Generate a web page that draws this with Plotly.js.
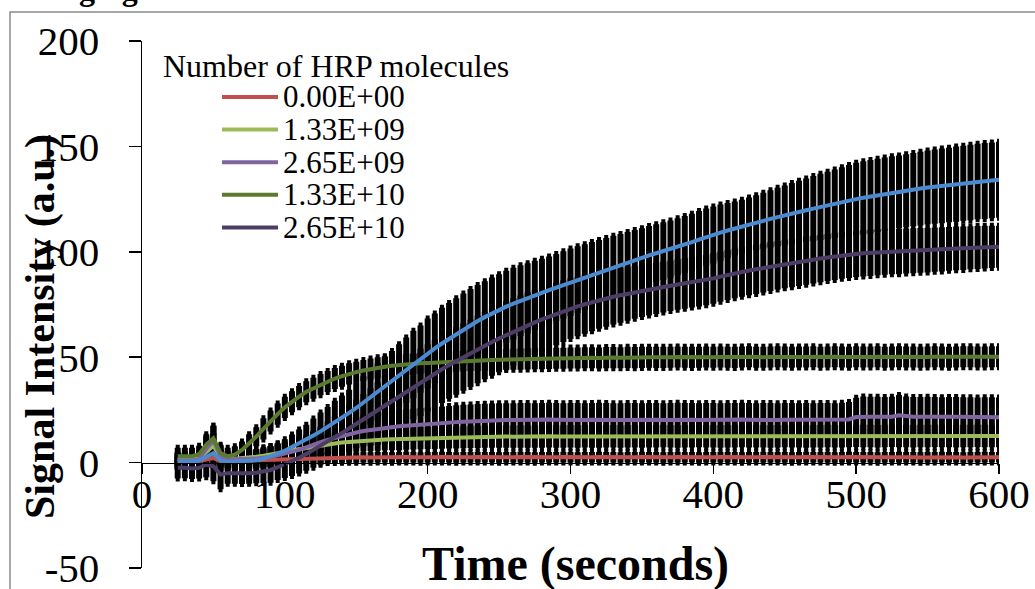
<!DOCTYPE html>
<html>
<head>
<meta charset="utf-8">
<script src="https://cdn.plot.ly/plotly-3.0.1.min.js"></script>
<style>html,body{margin:0;padding:0;background:#fff;}#chart{width:1035px;height:589px;}</style>
</head>
<body>
<div id="chart"></div>
<script>
// ---- data ----
const timeSec = [25,30,35,40,45,50,55,60,65,70,75,80,85,90,95,100,105,110,115,120,125,130,135,140,145,150,155,160,165,170,175,180,185,190,195,200,205,210,215,220,225,230,235,240,245,250,255,260,265,270,275,280,285,290,295,300,305,310,315,320,325,330,335,340,345,350,355,360,365,370,375,380,385,390,395,400,405,410,415,420,425,430,435,440,445,450,455,460,465,470,475,480,485,490,495,500,505,510,515,520,525,530,535,540,545,550,555,560,565,570,575,580,585,590,595,600];

const seriesNames = ['0.00E+00','1.33E+09','2.65E+09','1.33E+10','2.65E+10','(unlabelled)'];
const seriesColors = ['#C0504D','#9BBB59','#8064A2','#5A7A30','#4D3D66','#4A8AD0'];
const inLegend = [true,true,true,true,true,false];

const hrp0 = [0.5,0.6,0.5,0.7,1.5,2.2,0.6,0.5, 0.7,0.9,1.0,1.2,1.3,1.5,1.6,1.8, 1.9,2.0,2.1,2.2,2.2,2.3,2.3,2.4,2.4,2.4,
 2.5,2.4,2.5,2.5,2.4,2.5,2.6,2.5,2.4,2.5, 2.5,2.6,2.5,2.4,2.5,2.5,2.6,2.5,2.5,2.4, 2.5,2.5,2.6,2.5,2.4,2.5,2.5,2.5,2.6,2.5,
 2.4,2.5,2.5,2.6,2.5,2.5,2.4,2.5,2.5,2.6, 2.5,2.5,2.4,2.5,2.6,2.5,2.5,2.4,2.5,2.5, 2.6,2.5,2.5,2.4,2.5,2.5,2.6,2.5,2.5,2.5,
 2.4,2.5,2.6,2.5,2.5,2.5,2.4,2.5,2.6,2.5, 2.5,2.5,2.4,2.5,2.5,2.6,2.5,2.5,2.4,2.5, 2.5,2.6,2.5,2.5,2.4,2.5,2.5,2.6,2.5,2.5];
const hrp1 = [1.5,1.6,1.5,2.0,5.0,8.0,2.5,1.6, 1.8,2.0,2.4,2.8,3.3,3.8,4.5,5.3, 5.9,6.5,7.1,7.6,8.1,8.6,9.1,9.5,9.8,10.1,
 10.4,10.6,10.8,11.0,11.1,11.2,11.4,11.5,11.6,11.7, 11.8,11.9,12.0,12.0,12.1,12.2,12.2,12.3,12.3,12.3, 12.4,12.3,12.4,12.4,12.3,12.4,12.5,12.4,12.4,12.5,
 12.4,12.5,12.4,12.4,12.5,12.5,12.4,12.5,12.5,12.4, 12.5,12.5,12.6,12.5,12.4,12.5,12.5,12.6,12.5,12.5, 12.4,12.5,12.5,12.6,12.5,12.5,12.5,12.4,12.5,12.6,
 12.5,12.5,12.4,12.5,12.5,12.6,12.5,12.5,12.6,12.7, 12.6,12.6,12.5,12.6,12.7,12.6,12.6,12.5,12.6,12.6, 12.7,12.6,12.6,12.5,12.6,12.6,12.7,12.6,12.6,12.6];
const hrp2 = [1.0,1.1,1.0,1.6,6.5,10.5,3.0,1.5, 1.5,1.6,1.8,2.0,2.3,2.8,3.5,4.2, 4.9,6.0,7.2,8.6,9.7,10.8,11.8,12.8,13.6,14.3,
 15.0,15.5,16.0,16.4,16.8,17.2,17.5,17.8,18.0,18.2, 18.4,18.6,18.9,19.2,19.4,19.6,19.8,19.9,20.0,20.1, 20.2,20.2,20.3,20.3,20.2,20.3,20.4,20.3,20.2,20.3,
 20.3,20.2,20.3,20.4,20.3,20.2,20.2,20.3,20.3,20.2, 20.3,20.3,20.2,20.3,20.4,20.3,20.3,20.2,20.3,20.3, 20.2,20.3,20.3,20.4,20.3,20.2,20.3,20.3,20.2,20.3,
 20.3,20.2,20.3,20.2,20.3,20.3,20.2,20.4,20.5,21.6, 21.9,21.8,21.8,21.7,21.8,22.5,21.9,21.7,21.7,21.8, 21.7,21.6,21.7,21.7,21.6,21.6,21.5,21.6,21.6,21.5];
const hrp3 = [3.0,3.1,3.0,4.0,8.5,11.5,4.5,3.0, 3.8,6.0,9.0,12.3,16.0,19.7,23.0,26.2, 28.9,31.3,33.6,35.3,37.0,38.5,39.9,41.0,42.1,42.9,
 43.7,44.4,45.0,45.5,45.9,46.3,46.6,46.9,47.1,47.3, 47.5,47.7,47.9,48.0,48.2,48.4,48.5,48.6,48.7,48.8, 48.9,49.0,49.1,49.2,49.3,49.3,49.4,49.5,49.5,49.6,
 49.6,49.7,49.7,49.6,49.8,49.8,49.7,49.9,49.8,49.9, 50.0,49.9,49.9,50.0,50.1,50.0,49.9,50.0,50.1,50.0, 50.1,50.0,49.9,50.1,50.2,50.0,50.0,50.1,50.2,50.1,
 50.0,50.1,50.1,50.2,50.0,50.1,50.2,50.1,50.0,50.2, 50.1,50.1,50.2,50.0,50.1,50.2,50.1,50.1,50.0,50.1, 50.2,50.1,50.0,50.1,50.2,50.2,50.1,50.1,50.2,50.2];
const hrp4 = [-2.5,-2.4,-2.8,-2.5,-1.0,-1.8,-5.7,-5.0, -5.0,-5.1,-5.0,-4.8,-4.2,-3.5,-2.2,-0.8, 0.6,2.3,4.1,6.0,8.0,10.0,12.0,14.1,16.2,18.4,
 20.6,22.8,25.0,27.2,29.4,31.6,33.8,36.0,38.1,40.2, 42.3,44.3,46.3,48.2,50.1,51.9,53.7,55.5,57.2,58.9, 60.5,62.1,63.6,65.1,66.5,67.9,69.2,70.5,71.8,73.0,
 74.1,75.1,76.1,77.1,77.9,78.7,79.4,80.1,80.8,81.5, 82.1,82.7,83.3,83.9,84.5,85.0,85.6,86.1,86.6,87.4, 88.2,89.0,89.8,90.5,91.1,91.7,92.3,93.0,93.6,94.2,
 94.7,95.2,95.8,96.3,96.8,97.3,97.8,98.3,98.7,99.0, 99.3,99.5,99.8,100.0,100.1,100.2,100.4,100.5,100.7,100.8, 101.0,101.2,101.4,101.6,101.7,101.9,102.0,102.2,102.3,102.4];
const hrp5 = [0.5,0.3,0.5,1.0,3.0,4.5,1.0,0.3, 0.5,0.6,0.8,1.1,1.8,2.8,4.2,5.6, 7.3,9.2,11.0,12.9,14.8,16.9,19.3,21.3,23.6,25.9,
 28.5,31.0,33.6,36.0,38.5,41.2,43.9,46.5,49.0,51.8, 54.2,56.5,58.7,61.0,63.2,65.3,67.2,69.0,70.8,72.4, 74.0,75.4,76.8,78.0,79.3,80.5,81.8,83.0,84.3,85.6,
 86.8,88.0,89.2,90.4,91.6,92.8,93.9,95.0,96.1,97.2, 98.3,99.3,100.3,101.3,102.4,103.5,104.6,105.8,107.0,108.0, 109.1,110.1,111.1,112.0,112.9,113.8,114.7,115.6,116.5,117.3,
 118.1,118.9,119.7,120.5,121.3,122.0,122.8,123.5,124.3,125.0, 125.6,126.2,126.8,127.4,128.0,128.5,129.0,129.5,130.0,130.5, 130.9,131.3,131.7,132.1,132.5,132.9,133.3,133.6,133.9,134.2];

const err0 = [3,3,3,3,4,5,3,3, 3,3,3,3,3,3,3,3, 2.8,2.7,2.6,2.5,2.5,2.5,2.5,2.5,2.5,2.5,
 2.5,2.5,2.5,2.5,2.5,2.5,2.5,2.5,2.5,2.5, 2.5,2.5,2.5,2.5,2.5,2.5,2.5,2.5,2.5,2.5, 2.5,2.5,2.5,2.5,2.5,2.5,2.5,2.5,2.5,2.5,
 2.5,2.5,2.5,2.5,2.5,2.5,2.5,2.5,2.5,2.5, 2.5,2.5,2.5,2.5,2.5,2.5,2.5,2.5,2.5,2.5, 2.5,2.5,2.5,2.5,2.5,2.5,2.5,2.5,2.5,2.5,
 2.5,2.5,2.5,2.5,2.5,2.5,2.5,2.5,2.5,2.5, 2.5,2.5,2.5,2.5,2.5,2.5,2.5,2.5,2.5,2.5, 2.5,2.5,2.5,2.5,2.5,2.5,2.5,2.5,2.5,2.5];
const err1 = [3,3,3,3,5,6,4,3, 3,3,3.5,3.5,4,4,4.5,4.5, 5,5,5,5,5,5,5,5,5,5,
 5.1,5.1,5.2,5.2,5.2,5.3,5.3,5.3,5.3,5.3, 5.3,5.3,5.3,5.3,5.3,5.3,5.3,5.3,5.3,5.3, 5.3,5.3,5.3,5.3,5.3,5.3,5.3,5.3,5.3,5.3,
 5.3,5.3,5.3,5.3,5.3,5.3,5.3,5.3,5.3,5.3, 5.3,5.3,5.3,5.3,5.3,5.3,5.3,5.3,5.3,5.3, 5.3,5.3,5.3,5.3,5.3,5.3,5.3,5.3,5.3,5.3,
 5.3,5.3,5.3,5.3,5.3,5.3,5.3,5.3,5.3,5.3, 5.3,5.3,5.3,5.3,5.3,5.3,5.3,5.3,5.3,5.3, 5.3,5.3,5.3,5.3,5.3,5.3,5.3,5.3,5.3,5.3];
const err2 = [4,4,4,4,6,7,5,4, 4,4,4,4.5,4.5,5,5,5.5, 5.5,6,6,6.5,6.5,7,7,7,7.5,7.5,
 7.5,7.5,7.6,7.6,7.7,7.7,7.8,7.8,7.9,7.9, 8,8,8,8,8,8,8,8,8,8, 8,8,8,8,8,8,8,8,8,8,
 8,8,8,8,8,8,8,8,8,8, 8,8,8,8,8,8,8,8,8,8, 8,8,8,8,8,8,8,8,8,8,
 8,8,8,8,8,8,8,8,8.2,9.2, 9.4,9.4,9.4,9.4,9.4,9.6,9.4,9.4,9.4,9.4, 9.4,9.4,9.4,9.4,9.4,9.4,9.4,9.4,9.4,9.4];
const err3 = [4,4,4,4,5,6,4,4, 4,4,4.5,4.5,5,5,5,5, 5,5,5,5,5,5,5,5,5,5,
 5,5,5,5,5,5,5,5,5,5, 5,5,5,5,5,5,5,5,5,5, 5,5,5,5,5,5,5,5,5,5,
 5,5,5,5,5,5,5,5,5,5, 5,5,5,5,5,5,5,5,5,5, 5,5,5,5,5,5,5,5,5,5,
 5,5,5,5,5,5,5,5,5,5, 5,5,5,5,5,5,5,5,5,5, 5,5,5,5,5,5,5,5,5,5];
const err4 = [5,5,5,5,6,7,7,5, 5,5,5,5,5.5,6,6,6.5, 7,7.5,8,8.5,9,9.5,10,10.5,11,11.5,
 12,12.5,13,13.5,14,14.5,15,15.5,16,16, 16,16,16,16,16,16,16,16,16,16, 16,16,15.8,15.6,15.4,15.2,15,14.8,14.6,14.4,
 14.2,14,13.8,13.6,13.4,13.2,13,12.8,12.6,12.4, 12.3,12.2,12.1,12,12,12,12,12,12,12, 11.9,11.9,11.8,11.8,11.7,11.7,11.6,11.6,11.5,11.5,
 11.5,11.4,11.4,11.3,11.3,11.2,11.2,11.1,11.1,11, 11,11,10.9,10.9,10.8,10.8,10.7,10.7,10.6,10.6, 10.5,10.5,10.4,10.4,10.3,10.2,10.2,10.1,10,10];
const err5 = [4,4,4,4,5,6,5,4, 4,4,4,4,4.5,5,5,5.5, 6,6.5,7,8,9,9.5,10,10.5,11,12,
 12.5,13,13.5,14,14.5,15,15.5,16,16,16.5, 16.5,17,17,17,17,17,17,17,17,17, 17,17,16.8,16.6,16.4,16.2,16,16,16,16,
 15.8,15.6,15.4,15.2,15,14.8,14.6,14.4,14.2,14, 13.9,13.8,13.7,13.6,13.5,13.5,13.5,13.5,13.5,13.5, 13.3,13.0,12.8,12.7,12.8,13,13.3,13.6,13.9,14.2,
 14.5,14.8,15.1,15.4,15.7,16,16.3,16.6,16.9,17.2, 17.3,17.4,17.4,17.3,17.3,17.2,17.3,17.4,17.5,17.6, 17.6,17.7,17.7,17.8,17.8,17.9,17.9,18,18,18];

const seriesValues = [hrp0,hrp1,hrp2,hrp3,hrp4,hrp5];
const seriesErrors = [err0,err1,err2,err3,err4,err5];

const xTickVals = [0,100,200,300,400,500,600];
const yTickVals = [-50,0,50,100,150,200];
const legendTitle = 'Number of HRP molecules';
const xTitle = 'Time (seconds)';
const yTitle = 'Signal Intensity (a.u.)';
const cutTitle = 'Imaging';

// ---- layout helpers (pixel -> paper) ----
const W = 1035, H = 589, ML = 142, MR = 36, MT = 41, MB = 21;
const PW = W - ML - MR, PH = H - MT - MB;
const pxX = p => (p - ML) / PW;
const pxY = p => (H - MB - p) / PH;
const FONT = '"Liberation Serif", "Times New Roman", Times, serif';

const traces = [];
// error bars first (under all lines)
seriesValues.forEach((vals, i) => {
  traces.push({
    type: 'scatter', mode: 'markers', x: timeSec, y: vals,
    marker: {size: 1, color: 'rgba(0,0,0,0)'},
    error_y: {type: 'data', array: seriesErrors[i], visible: true, color: '#000', thickness: 6, width: 2},
    showlegend: false, hoverinfo: 'skip', cliponaxis: false
  });
});
seriesValues.forEach((vals, i) => {
  traces.push({
    type: 'scatter', mode: 'lines', x: timeSec, y: vals, name: seriesNames[i],
    line: {color: seriesColors[i], width: 4},
    showlegend: false
  });
});

const shapes = [{
  type: 'rect', xref: 'paper', yref: 'paper',
  x0: pxX(10), x1: pxX(1045), y0: pxY(600), y1: pxY(12),
  line: {color: '#8a8a8a', width: 1.5}, fillcolor: 'rgba(0,0,0,0)', layer: 'below'
}];
const annotations = [
  {xref:'paper', yref:'paper', x: pxX(22), y: pxY(9), xanchor:'left', yanchor:'bottom', showarrow:false,
   text: '<b>' + cutTitle + '</b>', font:{family:FONT, size:32, color:'#000'}},
  {xref:'paper', yref:'paper', x: pxX(40), y: pxY(327), xanchor:'center', yanchor:'middle', showarrow:false,
   textangle: -90, text: '<b>' + yTitle + '</b>', font:{family:FONT, size:42, color:'#000'}},
  {xref:'paper', yref:'paper', x: pxX(575), y: pxY(564), xanchor:'center', yanchor:'middle', showarrow:false,
   text: '<b>' + xTitle + '</b>', font:{family:FONT, size:48, color:'#000'}},
  {xref:'paper', yref:'paper', x: pxX(161), y: pxY(66), xanchor:'left', yanchor:'middle', showarrow:false,
   text: legendTitle, font:{family:FONT, size:32, color:'#000'}}
];
// custom legend built from the series arrays
let row = 0;
seriesNames.forEach((nm, i) => {
  if (!inLegend[i]) return;
  const yc = 97 + row * 32.6;
  shapes.push({type:'line', xref:'paper', yref:'paper', x0: pxX(222), x1: pxX(278), y0: pxY(yc), y1: pxY(yc),
    line:{color: seriesColors[i], width: 4}});
  annotations.push({xref:'paper', yref:'paper', x: pxX(281), y: pxY(yc), xanchor:'left', yanchor:'middle',
    showarrow:false, text: nm, font:{family:FONT, size:31, color:'#000'}});
  row++;
});

const layout = {
  width: W, height: H,
  margin: {l: ML, r: MR, t: MT, b: MB, pad: 0},
  paper_bgcolor: '#fff', plot_bgcolor: '#fff',
  showlegend: false,
  font: {family: FONT, color: '#000'},
  xaxis: {
    range: [0, 600], tickvals: xTickVals, ticktext: xTickVals.map(String),
    anchor: 'free', position: 0.2,
    showline: true, linecolor: '#000', linewidth: 1.5,
    ticks: 'outside', ticklen: 10, tickwidth: 1.5, tickcolor: '#000',
    showgrid: false, zeroline: false,
    tickfont: {family: FONT, size: 41, color: '#000'}, ticklabelstandoff: -15,
    ticklabeloverflow: 'allow'
  },
  yaxis: {
    range: [-50, 200], tickvals: yTickVals, ticktext: yTickVals.map(String),
    showline: true, linecolor: '#000', linewidth: 1.5,
    ticks: 'outside', ticklen: 12, tickwidth: 1.5, tickcolor: '#000',
    showgrid: false, zeroline: false,
    tickfont: {family: FONT, size: 41, color: '#000'}, ticklabelstandoff: 21,
    ticklabeloverflow: 'allow'
  },
  shapes: shapes,
  annotations: annotations
};

Plotly.newPlot('chart', traces, layout, {displayModeBar: false, staticPlot: true});
</script>
</body>
</html>
